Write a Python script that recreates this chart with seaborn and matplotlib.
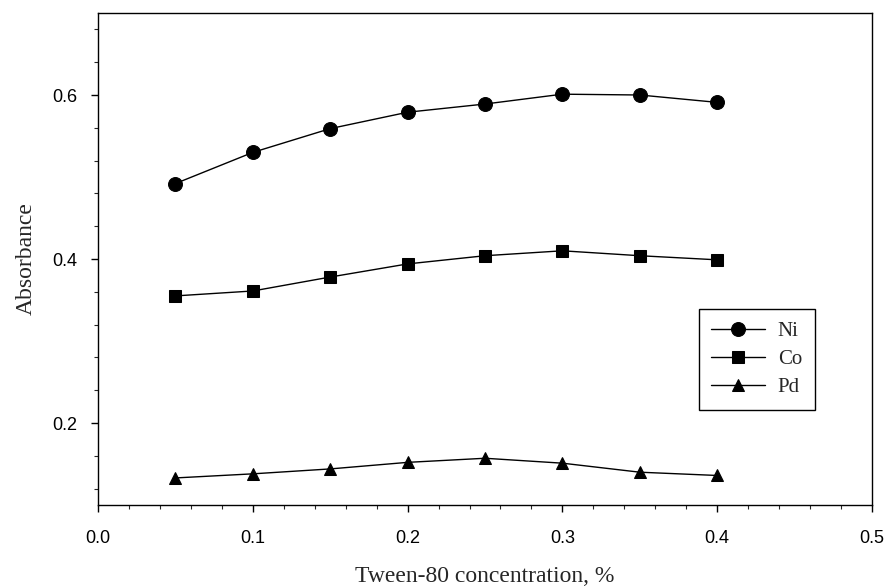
"""
Absorbance vs Tween-80 concentration for Ni, Co and Pd
"""

import pandas as pd
import matplotlib
matplotlib.use('Agg')
import matplotlib.pyplot as plt
from matplotlib.ticker import MultipleLocator
import seaborn as sns

# ---- data ----
tween_conc = [0.05, 0.10, 0.15, 0.20, 0.25, 0.30, 0.35, 0.40]
ni_abs = [0.492, 0.530, 0.559, 0.579, 0.589, 0.601, 0.600, 0.591]
co_abs = [0.355, 0.361, 0.378, 0.394, 0.404, 0.410, 0.404, 0.399]
pd_abs = [0.133, 0.138, 0.144, 0.152, 0.157, 0.151, 0.140, 0.136]
metals = ['Ni', 'Co', 'Pd']
x_ticks = [0.0, 0.1, 0.2, 0.3, 0.4, 0.5]
y_ticks = [0.2, 0.4, 0.6]


def main():
    sns.set_theme(style='ticks')
    plt.rcParams['font.family'] = ['Liberation Sans', 'DejaVu Sans']

    df = pd.DataFrame({
        'conc': tween_conc * 3,
        'absorbance': ni_abs + co_abs + pd_abs,
        'metal': [m for m in metals for _ in tween_conc],
    })

    fig = plt.figure(figsize=(8.85, 5.86), dpi=100)
    # axes box: x 98..872 px, y 13..505 px
    ax = fig.add_axes([98 / 885, 81 / 586, 774 / 885, 492 / 586])

    sns.lineplot(data=df, x='conc', y='absorbance', hue='metal', style='metal',
                 hue_order=metals, style_order=metals,
                 palette={m: 'black' for m in metals},
                 markers={'Ni': 'o', 'Co': 's', 'Pd': '^'}, dashes=False,
                 markersize=10, linewidth=1.0, markeredgecolor='black',
                 ax=ax, legend=True)

    sizes = [10, 8.5, 8.5]
    for line, ms in zip(ax.lines, sizes):
        line.set_markersize(ms)

    ax.set_xlim(0.0, 0.5)
    ax.set_ylim(0.1, 0.7)
    ax.set_xticks(x_ticks)
    ax.set_yticks(y_ticks)
    ax.xaxis.set_minor_locator(MultipleLocator(0.02))
    ax.yaxis.set_minor_locator(MultipleLocator(0.04))
    ax.set_xticklabels([f'{v:.1f}' for v in x_ticks])
    ax.set_yticklabels([f'{v:.1f}' for v in y_ticks])
    ax.tick_params(which='major', direction='out', length=5, width=1,
                   labelsize=13, pad=13, colors='black')
    ax.tick_params(axis='y', which='major', pad=10)
    ax.tick_params(which='minor', direction='out', length=3, width=0.8)
    for s in ax.spines.values():
        s.set_visible(True)
        s.set_linewidth(1.0)
        s.set_color('black')

    ax.set_xlabel('Tween-80 concentration, %', fontsize=17,
                  family=['Liberation Serif'], labelpad=14)
    ax.set_ylabel('Absorbance', fontsize=17, family=['Liberation Serif'],
                  labelpad=11)

    handles, labels = ax.get_legend_handles_labels()
    for h, ms in zip(handles, sizes):
        h.set_markersize(ms)
    leg = ax.legend(handles, labels, loc='upper left',
                    bbox_to_anchor=(0.776, 0.398), borderaxespad=0,
                    frameon=True, fancybox=False, edgecolor='black',
                    framealpha=1,
                    prop={'family': 'Liberation Serif', 'size': 15},
                    handlelength=2.6, borderpad=0.6, labelspacing=0.4,
                    handletextpad=0.6)
    leg.get_frame().set_linewidth(1.0)

    fig.savefig('out.png', dpi=100)
    plt.close(fig)


if __name__ == '__main__':
    main()
